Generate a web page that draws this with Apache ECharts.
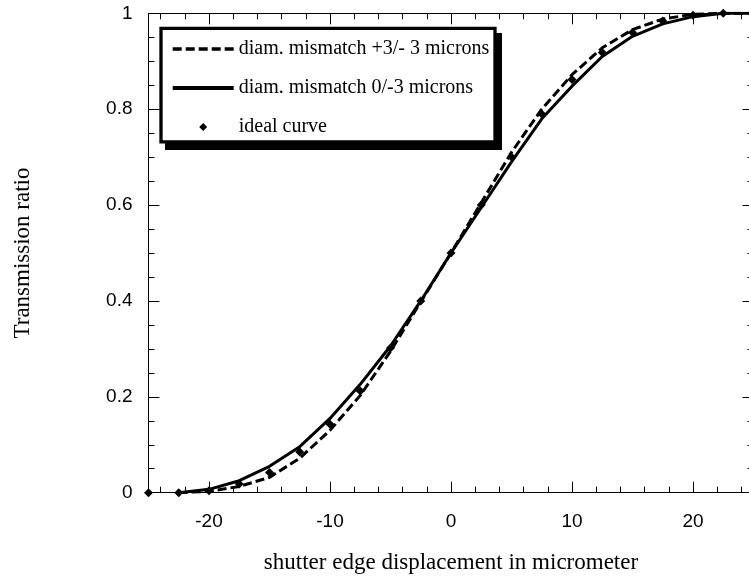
<!DOCTYPE html>
<html>
<head>
<meta charset="utf-8">
<title>Transmission ratio</title>
<script src="https://cdn.jsdelivr.net/npm/echarts@6/dist/echarts.min.js"></script>
<style>
  html, body { margin: 0; padding: 0; background: #fff; }
  #main { width: 749px; height: 578px; }
</style>
</head>
<body>
<div id="main"></div>
<script>
// shutter edge displacement (micrometer)
var displacement = [-25, -22.5, -20, -17.5, -15, -12.5, -10, -7.5, -5, -2.5, 0, 2.5, 5, 7.5, 10, 12.5, 15, 17.5, 20, 22.5, 25]
// diam. mismatch +3/- 3 microns (dashed), starts at -22.5
var mismatchPlus = [null, 0, 0.003, 0.013, 0.032, 0.072, 0.13, 0.203, 0.295, 0.398, 0.5, 0.605, 0.71, 0.8, 0.872, 0.928, 0.966, 0.988, 0.998, 1.0, 1.0]
// diam. mismatch 0/-3 microns (solid), starts at -22.5
var mismatchZero = [null, 0, 0.007, 0.025, 0.055, 0.096, 0.155, 0.226, 0.306, 0.4, 0.5, 0.595, 0.69, 0.78, 0.848, 0.91, 0.952, 0.978, 0.993, 1.0, 1.0]
// ideal curve (diamonds)
var ideal = [0, 0, 0.004, 0.018, 0.042, 0.085, 0.143, 0.212, 0.302, 0.4, 0.5, 0.6, 0.7, 0.79, 0.862, 0.918, 0.96, 0.984, 0.996, 1.0, 1.0]

var xMajorTicks = [-20, -10, 0, 10, 20]
var xMinorTicks = [-24, -22, -18, -16, -14, -12, -8, -6, -4, -2, 2, 4, 6, 8, 12, 14, 16, 18, 22, 24]

var legendNames = ['diam. mismatch +3/- 3 microns', 'diam. mismatch 0/-3 microns', 'ideal curve']

function pairs (ys) {
  var out = []
  for (var i = 0; i < displacement.length; i++) {
    if (ys[i] !== null) out.push([displacement[i], ys[i]])
  }
  return out
}

var serif = 'Liberation Serif, Times New Roman, serif'
var sans = 'Liberation Sans, Arial, sans-serif'

function xAxisOf (position, ticks, len, withLine, withLabel) {
  return {
    type: 'value',
    position: position,
    min: -25,
    max: 25,
    axisLine: { show: withLine, onZero: false, lineStyle: { color: '#000', width: 1 } },
    axisTick: { show: true, inside: true, length: len, customValues: ticks, lineStyle: { color: '#000', width: 1 } },
    axisLabel: { show: withLabel, customValues: xMajorTicks, margin: 20, color: '#000', fontFamily: sans, fontSize: 19 },
    splitLine: { show: false }
  }
}

function yAxisOf (position, withLabel) {
  return {
    type: 'value',
    position: position,
    min: 0,
    max: 1,
    interval: 0.2,
    axisLine: { show: true, onZero: false, lineStyle: { color: '#000', width: 1 } },
    axisTick: { show: true, inside: true, length: 11, lineStyle: { color: '#000', width: 1 } },
    minorTick: { show: true, splitNumber: 4, length: 6, lineStyle: { color: '#000', width: 1 } },
    axisLabel: { show: withLabel, margin: 16, color: '#000', fontFamily: sans, fontSize: 19 },
    splitLine: { show: false },
    minorSplitLine: { show: false }
  }
}

var xBottom = xAxisOf('bottom', xMajorTicks, 11, true, true)
xBottom.name = 'shutter edge displacement in micrometer'
xBottom.nameLocation = 'middle'
xBottom.nameGap = 59
xBottom.nameTextStyle = { color: '#000', fontFamily: serif, fontSize: 23 }

var yLeft = yAxisOf('left', true)
yLeft.name = 'Transmission ratio'
yLeft.nameLocation = 'middle'
yLeft.nameGap = 114
yLeft.nameTextStyle = { color: '#000', fontFamily: serif, fontSize: 23 }

var myChart = echarts.init(document.getElementById('main'))
myChart.setOption({
  animation: false,
  backgroundColor: '#fff',
  grid: { left: 148.5, top: 13.3, width: 605, height: 479.4, outerBoundsMode: 'none', containLabel: false },
  xAxis: [
    xBottom,
    xAxisOf('bottom', xMinorTicks, 6, false, false),
    xAxisOf('top', xMajorTicks, 11, true, false),
    xAxisOf('top', xMinorTicks, 6, false, false)
  ],
  yAxis: [yLeft, yAxisOf('right', false)],
  legend: {
    data: [
      { name: legendNames[0], itemStyle: { opacity: 0 }, lineStyle: { width: 3.5 } },
      { name: legendNames[1], itemStyle: { opacity: 0 }, lineStyle: { width: 4 } },
      { name: legendNames[2], icon: 'path://M0,-1L1,0L0,1L-1,0Z', itemStyle: { color: '#000', opacity: 1 } }
    ],
    orient: 'vertical',
    left: 170.7,
    top: 39,
    padding: 0,
    itemWidth: 61,
    itemHeight: 8,
    itemGap: 19,
    symbolKeepAspect: true,
    selectedMode: false,
    textStyle: { color: '#000', fontFamily: serif, fontSize: 20 }
  },
  graphic: [
    {
      type: 'rect',
      z: 1,
      shape: { x: 165, y: 33, width: 337, height: 117 },
      style: { fill: '#000' }
    },
    {
      type: 'rect',
      z: 2,
      shape: { x: 161, y: 28.3, width: 334, height: 113.5 },
      style: { fill: '#fff', stroke: '#000', lineWidth: 3.3 }
    }
  ],
  series: [
    {
      name: legendNames[0],
      type: 'line',
      data: pairs(mismatchPlus),
      symbol: 'none',
      lineStyle: { color: '#000', width: 3, type: [9, 4] },
      itemStyle: { color: '#000' },
      z: 3
    },
    {
      name: legendNames[1],
      type: 'line',
      data: pairs(mismatchZero),
      symbol: 'none',
      lineStyle: { color: '#000', width: 3 },
      itemStyle: { color: '#000' },
      z: 3
    },
    {
      name: legendNames[2],
      type: 'scatter',
      data: pairs(ideal),
      symbol: 'diamond',
      symbolSize: 9,
      itemStyle: { color: '#000', opacity: 1 },
      z: 4
    }
  ]
})
</script>
</body>
</html>
